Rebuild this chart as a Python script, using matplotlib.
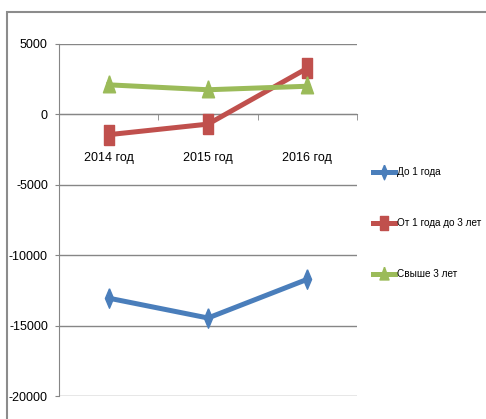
import matplotlib.pyplot as plt
from matplotlib.patches import Rectangle
from matplotlib.ticker import FixedLocator

# Data
years = ['2014 год', '2015 год', '2016 год']
up_to_1 = [-13050, -14460, -11710]
from_1_to_3 = [-1440, -690, 3280]
over_3 = [2100, 1750, 2000]
series_names = ['До 1 года', 'От 1 года до 3 лет', 'Свыше 3 лет']

plt.rcParams['font.family'] = ['Liberation Sans', 'DejaVu Sans']
plt.rcParams['font.size'] = 9
plt.rcParams['axes.unicode_minus'] = False

W, H = 486, 419
fig = plt.figure(figsize=(W / 100, H / 100), dpi=100)

# outer chart frame (only top and left edges visible)
fig.patches.append(Rectangle((7 / W, -0.1), 1.2, 1 - 12 / H + 0.1,
                             transform=fig.transFigure, fill=False,
                             edgecolor='#8c8c8c', linewidth=1.5))

ax = fig.add_axes([59 / W, 1 - 396 / H, (357 - 59) / W, (396 - 44) / H])

# tall, narrow marker shapes
diamond = [(0, 1), (0.42, 0), (0, -1), (-0.42, 0), (0, 1)]
square = [(-0.55, -1), (0.55, -1), (0.55, 1), (-0.55, 1), (-0.55, -1)]
triangle = [(0, 1), (0.62, -0.75), (-0.62, -0.75), (0, 1)]

x = range(len(years))
ax.plot(x, up_to_1, color='#4a7ebb', lw=3.6, marker=diamond, ms=14,
        label=series_names[0], zorder=3)
ax.plot(x, from_1_to_3, color='#c0504d', lw=3.6, marker=square, ms=14,
        label=series_names[1], zorder=3)
ax.plot(x, over_3, color='#9bbb59', lw=3.6, marker=triangle, ms=14,
        label=series_names[2], zorder=3)

ax.set_xlim(-0.5, 2.5)
ax.set_ylim(-20000, 5000)
ax.set_yticks([5000, 0, -5000, -10000, -15000, -20000])
ax.yaxis.grid(True, color='#868686', linewidth=1)
ax.set_axisbelow(True)

for s in ['top', 'right']:
    ax.spines[s].set_visible(False)
ax.spines['left'].set_color('#868686')
ax.spines['bottom'].set_position(('data', 0))
ax.spines['bottom'].set_color('#868686')

ax.set_xticks(list(x))
ax.set_xticklabels(years)
ax.xaxis.set_minor_locator(FixedLocator([0.5, 1.5, 2.5]))
ax.tick_params(axis='x', which='major', length=0, pad=27)
ax.tick_params(axis='x', which='minor', length=4, color='#868686')
ax.tick_params(axis='y', length=3, color='#868686', pad=5)

leg = fig.legend(loc='upper left', bbox_to_anchor=(364 / W, 1 - 158 / H),
                 frameon=False, handlelength=2.2, handletextpad=0.2,
                 labelspacing=4.1, fontsize=7.2, markerscale=0.75)

fig.savefig('out.png', dpi=100)
